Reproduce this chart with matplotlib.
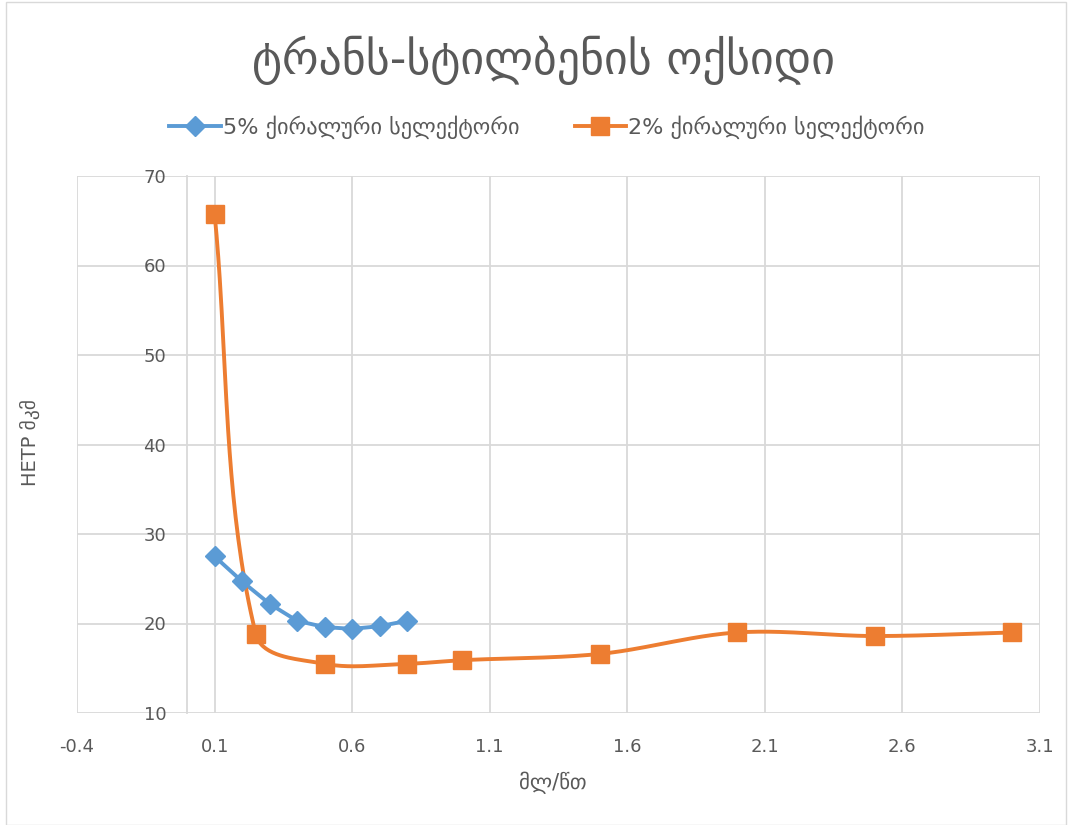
import numpy as np
import matplotlib.pyplot as plt
from matplotlib.patches import Rectangle

plt.rcParams['font.family'] = ['DejaVu Sans']

# data
x_5pct = [0.1, 0.2, 0.3, 0.4, 0.5, 0.6, 0.7, 0.8]
y_5pct = [27.5, 24.7, 22.2, 20.3, 19.6, 19.4, 19.7, 20.3]

x_2pct = [0.1, 0.25, 0.5, 0.8, 1.0, 1.5, 2.0, 2.5, 3.0]
y_2pct = [65.8, 18.8, 15.5, 15.5, 15.9, 16.6, 19.0, 18.6, 19.0]

title = 'ტრანს-სტილბენის ოქსიდი'
label_5 = '5% ქირალური სელექტორი'
label_2 = '2% ქირალური სელექტორი'
xlabel = 'მლ/წთ'
ylabel = 'HETP მკმ'

x_ticks = [-0.4, 0.1, 0.6, 1.1, 1.6, 2.1, 2.6, 3.1]
y_ticks = [10, 20, 30, 40, 50, 60, 70]

blue = '#5B9BD5'
orange = '#ED7D31'
grey = '#595959'
grid_c = '#D9D9D9'

xlim = (-0.4, 3.1)
ylim = (10, 70)
W, H = 1072, 825
box = [77 / W, 1 - 713 / H, (1040 - 77) / W, (713 - 176) / H]


def smooth(xs, ys, n=40):
    # Excel-like smoothed line, worked out in pixel space so the curve
    # does not overshoot after the steep first segment
    kx = box[2] * W / (xlim[1] - xlim[0])
    ky = box[3] * H / (ylim[1] - ylim[0])
    p = np.column_stack([np.asarray(xs, float) * kx, np.asarray(ys, float) * ky])
    m = len(p)
    tang = np.zeros_like(p)
    for i in range(m):
        a = p[max(i - 1, 0)]
        b = p[min(i + 1, m - 1)]
        d = b - a
        tang[i] = d / np.hypot(*d)
    t = np.linspace(0, 1, n)[:, None]
    out = []
    for i in range(m - 1):
        L = np.hypot(*(p[i + 1] - p[i]))
        c1 = p[i] + tang[i] * L / 3
        c2 = p[i + 1] - tang[i + 1] * L / 3
        b = (1 - t) ** 3 * p[i] + 3 * (1 - t) ** 2 * t * c1 + 3 * (1 - t) * t ** 2 * c2 + t ** 3 * p[i + 1]
        out.append(b)
    out = np.vstack(out)
    return out[:, 0] / kx, out[:, 1] / ky


fig = plt.figure(figsize=(W / 100, H / 100), dpi=100)
ax = fig.add_axes(box)

sx, sy = smooth(x_2pct, y_2pct)
ax.plot(x_5pct, y_5pct, color=blue, lw=2.8, zorder=3)
ax.plot(x_5pct, y_5pct, ls='none', marker='D', ms=10.5, color=blue, zorder=4)
ax.plot(sx, sy, color=orange, lw=2.8, zorder=3)
ax.plot(x_2pct, y_2pct, ls='none', marker='s', ms=13, color=orange, zorder=4)

# legend handles
h5, = ax.plot([], [], color=blue, lw=2.8, marker='D', ms=10.5)
h2, = ax.plot([], [], color=orange, lw=2.8, marker='s', ms=13)

ax.set_xlim(*xlim)
ax.set_ylim(*ylim)
ax.set_xticks(x_ticks)
ax.set_xticklabels([f'{v:g}' for v in x_ticks])
ax.set_yticks(y_ticks)
ax.grid(True, color=grid_c, lw=1.3)
ax.set_axisbelow(True)
for s in ['top', 'right', 'bottom']:
    ax.spines[s].set_visible(False)
ax.spines['left'].set_position(('data', 0))
ax.spines['left'].set_color(grid_c)
ax.spines['left'].set_linewidth(1.3)
ax.tick_params(length=0, labelsize=13, colors=grey)
ax.tick_params(axis='y', pad=15)
ax.tick_params(axis='x', pad=18)

fig.text(30 / W, 1 - 442 / H, ylabel, rotation=90, ha='center', va='center',
         fontsize=14, color=grey)
fig.text(553 / W, 1 - 783 / H, xlabel, ha='center', va='center',
         fontsize=15, color=grey)
fig.text(543 / W, 1 - 60 / H, title, ha='center', va='center', fontsize=33, color=grey)

fig.legend([h5, h2], [label_5, label_2], loc='center', bbox_to_anchor=(547 / W, 1 - 127 / H),
           ncol=2, frameon=False, fontsize=16, labelcolor=grey, handlelength=2.3,
           handletextpad=0.1, columnspacing=2.5)

fig.patches.append(Rectangle((6 / W, 0), 1060 / W, 0.998, transform=fig.transFigure,
                             fill=False, edgecolor=grid_c, lw=1))

fig.savefig('out.png', dpi=100)
